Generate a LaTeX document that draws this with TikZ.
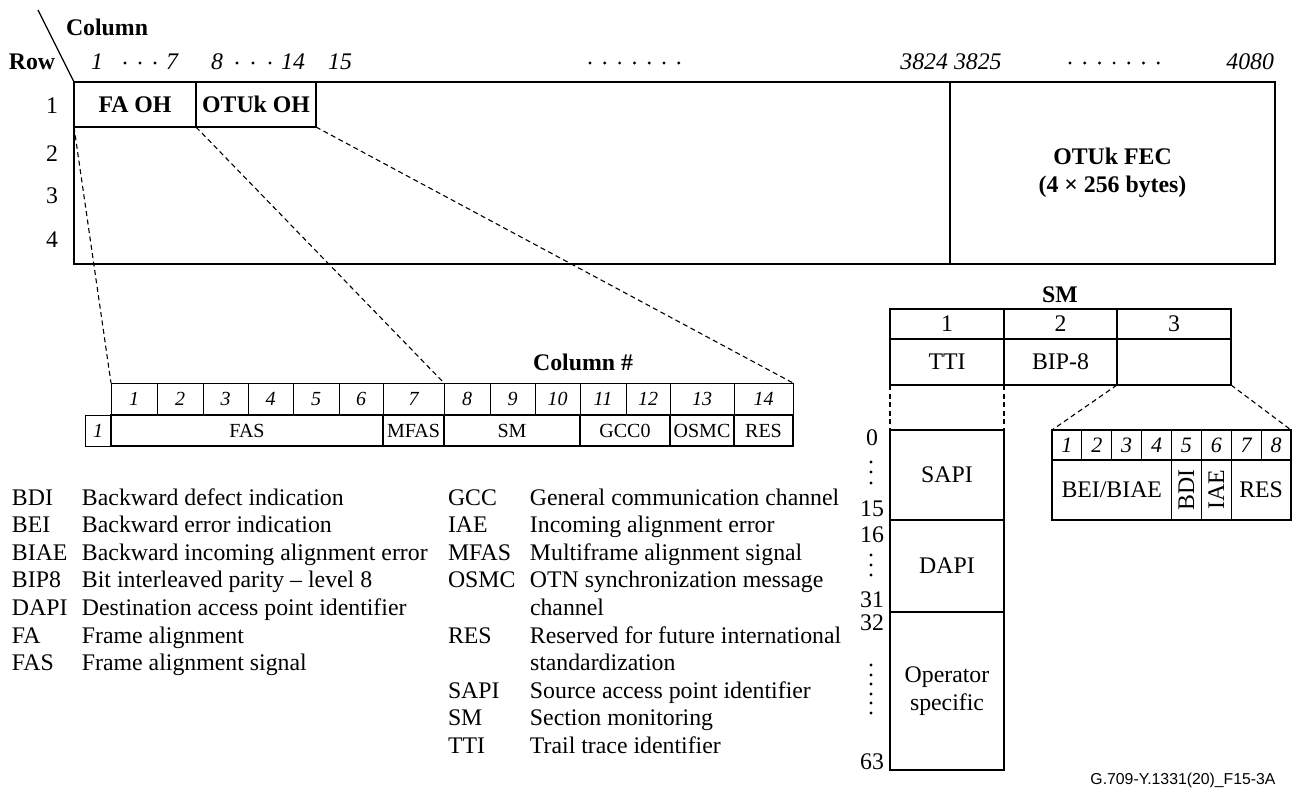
\documentclass[tikz,border=0pt]{standalone}
\usepackage{fontspec}
\setmainfont{Liberation Serif}
\setsansfont{Liberation Sans}
\begin{document}
\begin{tikzpicture}[x=1pt, y=-1pt,
    every node/.style={inner sep=0pt, outer sep=0pt, font=\fontsize{23.8}{27.6}\selectfont},
    cell/.style 2 args={draw, rectangle, anchor=north west, minimum width=(#1)*1pt, minimum height=(#2)*1pt, line width=1.4pt},
    hcell/.style 2 args={cell={#1}{#2}, line width=1pt, font=\fontsize{20}{22}\selectfont\itshape},
    fcell/.style 2 args={cell={#1}{#2}, line width=2.2pt, font=\fontsize{20}{22}\selectfont},
    conn/.style={dash pattern=on 5pt off 3.5pt, line width=1.1pt}]
  \useasboundingbox (0,0) rectangle (1293,789);
  % frame of the OTUk
  \node[cell={1201}{182}, line width=1.8pt] (frame) at (74,82) {};
  \node[cell={325}{182}, line width=1.8pt, font=\fontsize{23.8}{27.6}\selectfont\bfseries, align=center] (fec) at (950,82) {OTUk FEC\\(4 × 256 bytes)};
  \node[cell={122}{45}, line width=1.8pt, font=\fontsize{23.8}{27.6}\selectfont\bfseries] (faoh) at (74,82) {FA OH};
  \node[cell={120}{45}, line width=1.8pt, font=\fontsize{23.8}{27.6}\selectfont\bfseries] (otuoh) at (196,82) {OTUk OH};
  \node[font=\fontsize{23.8}{27.6}\selectfont\bfseries] (collbl) at (107,27) {Column};
  \node[font=\fontsize{23.8}{27.6}\selectfont\bfseries] (rowlbl) at (32,62) {Row};
  \coordinate (slash) at (38,10);
  \draw[line width=1.2pt] (slash) -- (frame.north west);
  \foreach \r/\y in {1/106, 2/154, 3/196, 4/240}
    \node (row\r) at (52,\y) {\r};
  \foreach \t/\x in {1/97, 7/172, 8/217, 14/293, 15/340}
    \node[font=\fontsize{23.8}{27.6}\selectfont\itshape] (col\t) at (\x,62) {\t};
  \node[font=\fontsize{23.8}{27.6}\selectfont\itshape, anchor=east] (col3824) at (948,62) {3824};
  \node[font=\fontsize{23.8}{27.6}\selectfont\itshape, anchor=west] (col3825) at (954,62) {3825};
  \node[font=\fontsize{23.8}{27.6}\selectfont\itshape, anchor=east] (col4080) at (1274,62) {4080};
  \foreach \x in {125,140,155,237,253,270}
    \fill (\x,63) circle (1.6pt);
  \foreach \i in {0,...,6} {
    \fill (590+14.8*\i,63) circle (1.6pt);
    \fill (1070+14.7*\i,63) circle (1.6pt);
  }
  % overhead columns 1..14
  \node[font=\fontsize{23.8}{27.6}\selectfont\bfseries] (colnum) at (583,362) {Column \#};
  \foreach \n/\a/\b in {1/111/157, 2/157/203, 3/203/248, 4/248/293, 5/293/339, 6/339/383, 7/383/444, 8/444/490, 9/490/535, 10/535/580, 11/580/626, 12/626/670, 13/670/734, 14/734/793}
    \node[hcell={\b-\a}{32}] (h\n) at (\a,383) {\n};
  \node[hcell={26}{31}] (h0) at (85,415) {1};
  \foreach \n/\a/\b in {FAS/111/383, MFAS/383/444, SM/444/580, GCC0/580/670, OSMC/670/734, RES/734/793}
    \node[fcell={\b-\a}{31}] (f\n) at (\a,415) {\n};
  \foreach \s/\d in {faoh.south west/h1.north west, faoh.south east/h8.north west, otuoh.south east/h14.north east}
    \draw[conn] (\s) -- (\d);
  % SM bytes
  \node[font=\fontsize{23.8}{27.6}\selectfont\bfseries] (smlbl) at (1060,295) {SM};
  \foreach \n/\a/\w in {1/890/114, 2/1004/113, 3/1117/114}
    \node[cell={\w}{30}] (sm\n) at (\a,309) {\n};
  \node[cell={114}{46}] (tti) at (890,339) {TTI};
  \node[cell={113}{46}] (bip) at (1004,339) {BIP-8};
  \node[cell={114}{46}] (smres) at (1117,339) {};
  \node[cell={114}{90}] (sapi) at (890,430) {SAPI};
  \node[cell={114}{92}] (dapi) at (890,520) {DAPI};
  \node[cell={114}{158}, align=center] (opspec) at (890,612) {Operator\\specific};
  \draw[conn] (tti.south west) -- (sapi.north west);
  \draw[conn] (tti.south east) -- (sapi.north east);
  \foreach \t/\y in {0/438, 15/509, 16/535, 31/600, 32/623, 63/762}
    \node (byte\t) at (872,\y) {\t};
  \foreach \y in {462,472,483,555,565,575,665,675,684,694,703,713}
    \fill (871,\y) circle (1.6pt);
  % SM byte 3 bits
  \foreach \n in {1,...,8}
    \node[cell={29.875}{30}, line width=1.1pt, font=\fontsize{22}{24}\selectfont\itshape] (b\n) at (1022.125+29.875*\n,430) {\n};
  \node[cell={119.5}{60}, line width=1.1pt] (beibiae) at (1052,460) {BEI/BIAE};
  \node[cell={29.875}{60}, line width=1.1pt] (bdi) at (1171.5,460) {};
  \node[cell={29.875}{60}, line width=1.1pt] (iae) at (1201.375,460) {};
  \node[cell={59.75}{60}, line width=1.1pt] (bres) at (1231.25,460) {RES};
  \node[rotate=90] (bditxt) at (bdi.center) {BDI};
  \node[rotate=90] (iaetxt) at (iae.center) {IAE};
  \draw[conn] (smres.south west) -- (b1.north west);
  \draw[conn] (smres.south east) -- (b8.north east);
  % legend
  \node[anchor=base west] (legleft) at (12,505) {\begin{tabular}[t]{@{}p{70pt}@{}l@{}}
    BDI & Backward defect indication\\
    BEI & Backward error indication\\
    BIAE & Backward incoming alignment error\\
    BIP8 & Bit interleaved parity – level 8\\
    DAPI & Destination access point identifier\\
    FA & Frame alignment\\
    FAS & Frame alignment signal
  \end{tabular}};
  \node[anchor=base west] (legright) at (448,505) {\begin{tabular}[t]{@{}p{82pt}@{}l@{}}
    GCC & General communication channel\\
    IAE & Incoming alignment error\\
    MFAS & Multiframe alignment signal\\
    OSMC & OTN synchronization message\\
     & channel\\
    RES & Reserved for future international\\
     & standardization\\
    SAPI & Source access point identifier\\
    SM & Section monitoring\\
    TTI & Trail trace identifier
  \end{tabular}};
  \node[font=\fontsize{15.8}{18}\selectfont\sffamily] (figid) at (1183,780) {G.709-Y.1331(20)\_F15-3A};
\end{tikzpicture}
\end{document}
